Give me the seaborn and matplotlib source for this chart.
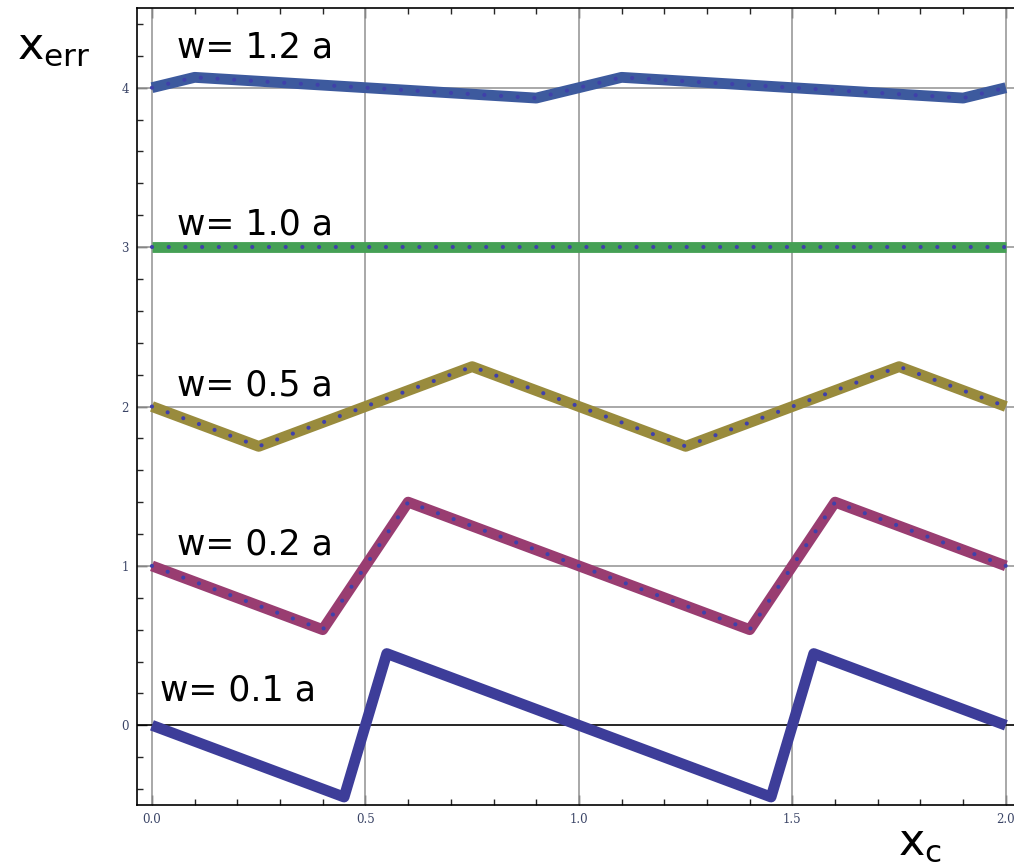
import numpy as np
import pandas as pd
import matplotlib
matplotlib.use("Agg")
import matplotlib.pyplot as plt
import seaborn as sns
from matplotlib.ticker import MultipleLocator, FixedLocator

sns.set_style("white")
plt.rcParams['font.family'] = ['DejaVu Sans']
plt.rcParams['mathtext.default'] = 'regular'

# ---- data ----
x_w01 = [0.0, 0.45, 0.55, 1.0, 1.45, 1.55, 2.0]
y_w01 = [0.0, -0.45, 0.45, 0.0, -0.45, 0.45, 0.0]
x_w02 = [0.0, 0.4, 0.6, 1.0, 1.4, 1.6, 2.0]
y_w02 = [1.0, 0.6, 1.4, 1.0, 0.6, 1.4, 1.0]
x_w05 = [0.0, 0.25, 0.75, 1.0, 1.25, 1.75, 2.0]
y_w05 = [2.0, 1.75, 2.25, 2.0, 1.75, 2.25, 2.0]
x_w10 = [0.0, 2.0]
y_w10 = [3.0, 3.0]
x_w12 = [0.0, 0.1, 0.9, 1.1, 1.9, 2.0]
y_w12 = [4.0, 4.065, 3.935, 4.065, 3.935, 4.0]

labels = ["w= 0.1 a", "w= 0.2 a", "w= 0.5 a", "w= 1.0 a", "w= 1.2 a"]
label_x = [0.019, 0.059, 0.059, 0.059, 0.059]
label_y = [0.155, 1.07, 2.07, 3.08, 4.19]
colors = ["#3d3d99", "#993d71", "#998b3d", "#45a055", "#3d5a9e"]
x_ticks = [0.0, 0.5, 1.0, 1.5, 2.0]
x_ticklabels = ["0.0", "0.5", "1.0", "1.5", "2.0"]
y_ticks = [0, 1, 2, 3, 4]
y_ticklabels = ["0", "1", "2", "3", "4"]

series = [(x_w01, y_w01), (x_w02, y_w02), (x_w05, y_w05), (x_w10, y_w10), (x_w12, y_w12)]

fig = plt.figure(figsize=(10.14, 8.66), dpi=100)
ax = fig.add_axes([137/1014, 61/866, 1 - 137/1014, (805-8)/866])

ax.set_xlim(-0.035, 2.019)
ax.set_ylim(-0.5, 4.5)

# grid lines
for xv in x_ticks:
    ax.axvline(xv, color="#999999", lw=1.2, zorder=1)
for yv in y_ticks[1:]:
    ax.axhline(yv, color="#999999", lw=1.2, zorder=1)
ax.axhline(0, color="black", lw=1.2, zorder=1)

for i, ((xs, ys), c) in enumerate(zip(series, colors)):
    df = pd.DataFrame({"x": xs, "y": ys})
    sns.lineplot(data=df, x="x", y="y", ax=ax, color=c, lw=7.8, sort=False,
                 estimator=None, solid_joinstyle="round", solid_capstyle="butt", zorder=3)
    if i > 0:
        sns.lineplot(data=df, x="x", y="y", ax=ax, color="#4040aa", lw=3.0, sort=False,
                     estimator=None, linestyle=(0, (0.01, 4.0)), dash_capstyle="round", zorder=4)

for t, lx, ly in zip(labels, label_x, label_y):
    ax.text(lx, ly, t, fontsize=25, color="black", va="baseline", ha="left", zorder=5)

ax.set_xlabel("")
ax.set_ylabel("")
ax.xaxis.set_major_locator(FixedLocator(x_ticks))
ax.yaxis.set_major_locator(FixedLocator(y_ticks))
ax.set_xticklabels(x_ticklabels, family="serif", fontsize=8.5, color="#3a4466")
ax.set_yticklabels(y_ticklabels, family="serif", fontsize=8.5, color="#3a4466")
ax.xaxis.set_minor_locator(MultipleLocator(0.1))
ax.yaxis.set_minor_locator(MultipleLocator(0.2))
ax.tick_params(which="major", direction="in", length=7, width=1, top=True, bottom=True, left=True, right=False, pad=6)
ax.tick_params(which="minor", direction="in", length=4, width=1, top=True, bottom=True, left=True, right=False)
for s in ["left", "bottom", "top"]:
    ax.spines[s].set_visible(True)
    ax.spines[s].set_color("black")
    ax.spines[s].set_linewidth(1.2)
ax.spines["right"].set_visible(False)

fig.text(17/1014, (866-59)/866, r"$x_{err}$", fontsize=32, color="black", ha="left", va="baseline")
fig.text(898/1014, (866-855)/866, r"$x_{c}$", fontsize=32, color="black", ha="left", va="baseline")

fig.savefig("out.png", dpi=100)
